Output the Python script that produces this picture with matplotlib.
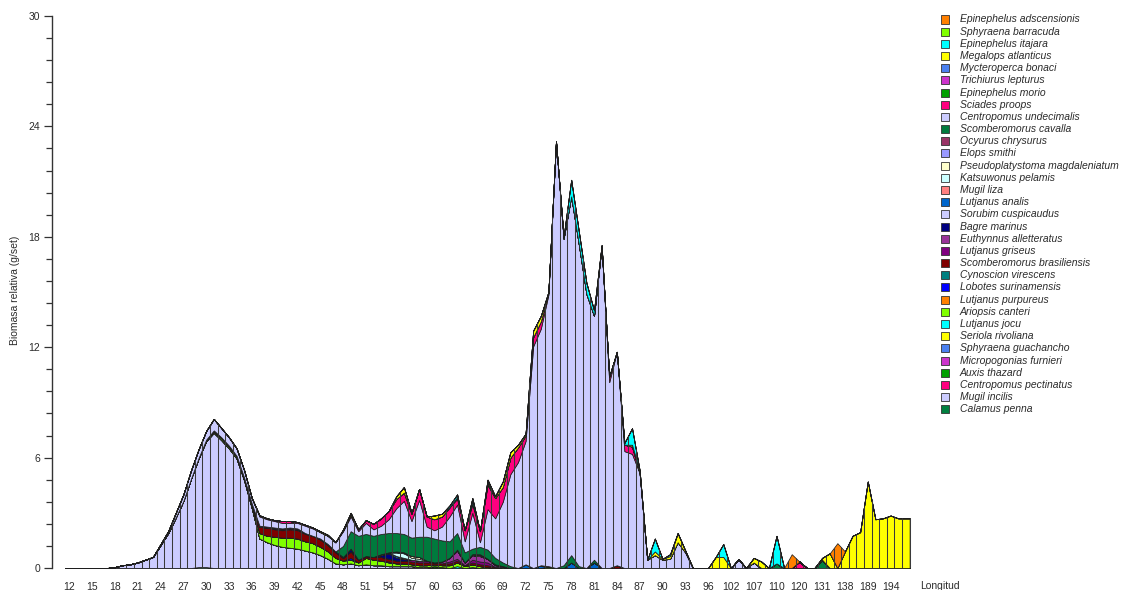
import numpy as np
import matplotlib
matplotlib.use("Agg")
from matplotlib import pyplot as plt
from matplotlib.patches import Rectangle
from matplotlib.ticker import MultipleLocator

plt.rcParams["font.family"] = ["Liberation Sans", "DejaVu Sans"]

# longitudes sampled, used as categories on the x axis
longitud = list(range(12, 96)) + [96, 98, 100, 102, 104, 105, 107, 108, 109, 110,
                                  112, 115, 120, 124, 127, 131, 133, 135, 138, 150,
                                  180, 189, 190, 192, 194, 196, 198]

# relative biomass (g/set) per species, only where it was caught {longitud: value}
calamus_penna = {29: .05, 30: .05, 110: .25, 131: .45}
mugil_incilis = {18: .05, 19: .15, 20: .2, 21: .3, 22: .45, 23: .6, 24: 1.25, 25: 1.9,
                 26: 2.75, 27: 3.65, 28: 4.85, 29: 5.9, 30: 6.85, 31: 7.35, 32: 6.95,
                 33: 6.5, 34: 5.95, 35: 4.75, 36: 3.25, 37: 1.6, 38: 1.4, 39: 1.25,
                 40: 1.15, 41: 1.1, 42: 1.05, 43: .95, 44: .85, 45: .7, 46: .5, 47: .25,
                 48: .2, 49: .25, 50: .15, 51: .2, 52: .15, 53: .15, 54: .1, 55: .1,
                 56: .1, 57: .1, 58: .05, 59: .05, 104: .47, 107: .3}
centropomus_pectinatus = {120: .35}
auxis_thazard = {60: .1, 61: .05}
micropogonias_furnieri = {}
sphyraena_guachancho = {}
seriola_rivoliana = {}
lutjanus_jocu = {63: .1, 65: .05}
ariopsis_canteri = {29: .03, 30: .05, 31: .08, 32: .1, 33: .1, 34: .1, 35: .1, 36: .15,
                    37: .3, 38: .35, 39: .45, 40: .5, 41: .55, 42: .55, 43: .5, 44: .5,
                    45: .45, 46: .4, 47: .3, 48: .2, 49: .2, 50: .15, 51: .35, 52: .3,
                    53: .25, 54: .2, 55: .15, 56: .15, 57: .1, 58: .1, 59: .1, 60: .1,
                    61: .1, 62: .15, 63: .2, 64: .1, 65: .15, 66: .1, 67: .05, 69: .05,
                    75: .1}
lutjanus_purpureus = {}
lobotes_surinamensis = {49: .1, 54: .05}
cynoscion_virescens = {}
scomberomorus_brasiliensis = {30: .03, 31: .05, 32: .05, 33: .05, 34: .05, 35: .05,
                              36: .1, 37: .35, 38: .45, 39: .4, 40: .4, 41: .45, 42: .45,
                              43: .4, 44: .4, 45: .4, 46: .35, 47: .3, 48: .15, 49: .35,
                              50: .15, 51: .1, 52: .15, 53: .2, 54: .15, 55: .15, 56: .15,
                              57: .15, 58: .15, 59: .15, 60: .1, 61: .1, 62: .1, 63: .1,
                              64: .05, 65: .1, 66: .1, 67: .1, 68: .05, 84: .15}
lutjanus_griseus = {39: .05, 40: .05, 41: .05, 42: .05, 43: .05, 57: .1, 58: .1, 59: .1,
                    62: .1, 63: .1, 65: .15, 66: .15, 67: .15}
euthynnus_alletteratus = {61: .1, 62: .2, 63: .45, 64: .15, 65: .25, 66: .3, 67: .2,
                          68: .1, 69: .05}
bagre_marinus = {45: .05, 46: .05, 47: .05, 48: .05, 49: .15, 53: .1, 54: .3, 55: .15,
                 56: .1}
sorubim_cuspicaudus = {}
lutjanus_analis = {54: .05, 55: .1, 68: .05, 72: .2, 74: .15, 78: .3, 81: .3}
mugil_liza = {56: .05}
katsuwonus_pelamis = {55: .2, 56: .25, 57: .1, 58: .1}
pseudoplatystoma_magdaleniatum = {57: .1, 58: .1, 65: .05, 66: .05}
elops_smithi = {53: .05, 55: .05, 56: .05}
ocyurus_chrysurus = {37: .05, 38: .05, 39: .05, 40: .05, 41: .05, 42: .05, 63: .05,
                     66: .05}
scomberomorus_cavalla = {48: .6, 49: .95, 50: 1.3, 51: 1.2, 52: 1.15, 53: 1.1, 54: 1.05,
                         55: 1.0, 56: 1.0, 57: 1.0, 58: 1.1, 59: 1.3, 60: 1.3, 61: 1.15,
                         62: .9, 63: .9, 64: .55, 65: .3, 66: .4, 67: .5, 68: .35,
                         69: .2, 70: .1, 77: .15, 78: .4, 79: .1, 81: .15}
centropomus_undecimalis = {24: .05, 25: .1, 26: .25, 27: .35, 28: .45, 29: .47, 30: .47,
                           31: .62, 32: .5, 33: .45, 34: .4, 35: .4, 36: .3, 37: .5,
                           38: .4, 39: .35, 40: .3, 41: .25, 42: .3, 43: .4, 44: .4,
                           45: .35, 46: .45, 47: .5, 48: .8, 49: .8, 50: .25, 51: .6,
                           52: .35, 53: .45, 54: .75, 55: 1.35, 56: 1.8, 57: .9, 58: 2.0,
                           59: .55, 60: .45, 61: .75, 62: 1.35, 63: 1.55, 64: .6,
                           65: 1.95, 66: .25, 67: 2.2, 68: 2.15, 69: 3.3, 70: 5.0,
                           71: 5.75, 72: 6.7, 73: 12.05, 74: 12.85, 75: 14.75, 76: 23.2,
                           77: 17.75, 78: 19.5, 79: 17.5, 80: 14.9, 81: 13.25, 82: 17.5,
                           83: 10.1, 84: 11.6, 85: 6.35, 86: 6.2, 87: 5.15, 88: .45,
                           89: .7, 90: .45, 91: .5, 92: 1.4, 93: .85}
sciades_proops = {37: .05, 38: .05, 39: .05, 40: .1, 41: .1, 42: .05, 43: .05, 44: .05,
                  48: .05, 49: .1, 50: .1, 51: .15, 52: .3, 53: .4, 54: .45, 55: .5,
                  56: .45, 57: .4, 58: .6, 59: .55, 60: .6, 61: .55, 62: .5, 63: .3,
                  64: .6, 65: .45, 66: .6, 67: 1.3, 68: 1.1, 69: .8, 70: .9, 71: .8,
                  72: .3, 73: .5, 74: .4, 75: .1, 83: .3, 85: .35, 86: .4}
epinephelus_morio = {63: .1, 65: .15, 67: .1}
trichiurus_lepturus = {}
mycteroperca_bonaci = {}
megalops_atlanticus = {37: .02, 45: .05, 46: .05, 48: .05, 49: .1, 55: .15, 56: .3,
                       57: .05, 60: .2, 61: .15, 67: .1, 68: .1, 69: .3, 70: .3, 71: .15,
                       72: .1, 73: .35, 74: .3, 75: .05, 86: .1, 87: .15, 89: .2, 90: .05,
                       91: .15, 92: .5, 93: .1, 98: .6, 100: .6, 107: .25, 108: .35,
                       131: .1, 133: .8, 138: .9, 150: 1.75, 180: 1.95, 189: 4.7,
                       190: 2.65, 192: 2.7, 194: 2.85, 196: 2.7, 198: 2.7}
epinephelus_itajara = {62: .1, 63: .15, 65: .2, 67: .1, 77: .1, 78: .9, 79: .7, 80: .6,
                       81: .3, 82: .05, 85: .1, 86: .9, 89: .7, 91: .1, 100: .7, 110: 1.5}
sphyraena_barracuda = {}
epinephelus_adscensionis = {115: .75, 135: 1.35}

# stacking order, bottom first
especies = [
    ("Calamus penna", calamus_penna, "#008040"),
    ("Mugil incilis", mugil_incilis, "#ccccff"),
    ("Centropomus pectinatus", centropomus_pectinatus, "#ff0080"),
    ("Auxis thazard", auxis_thazard, "#00a000"),
    ("Micropogonias furnieri", micropogonias_furnieri, "#cc33cc"),
    ("Sphyraena guachancho", sphyraena_guachancho, "#4a80f0"),
    ("Seriola rivoliana", seriola_rivoliana, "#ffff00"),
    ("Lutjanus jocu", lutjanus_jocu, "#00ffff"),
    ("Ariopsis canteri", ariopsis_canteri, "#80ff00"),
    ("Lutjanus purpureus", lutjanus_purpureus, "#ff8000"),
    ("Lobotes surinamensis", lobotes_surinamensis, "#0000ff"),
    ("Cynoscion virescens", cynoscion_virescens, "#008080"),
    ("Scomberomorus brasiliensis", scomberomorus_brasiliensis, "#800000"),
    ("Lutjanus griseus", lutjanus_griseus, "#800080"),
    ("Euthynnus alletteratus", euthynnus_alletteratus, "#993399"),
    ("Bagre marinus", bagre_marinus, "#000080"),
    ("Sorubim cuspicaudus", sorubim_cuspicaudus, "#ccccff"),
    ("Lutjanus analis", lutjanus_analis, "#0066cc"),
    ("Mugil liza", mugil_liza, "#ff8080"),
    ("Katsuwonus pelamis", katsuwonus_pelamis, "#ccffff"),
    ("Pseudoplatystoma magdaleniatum", pseudoplatystoma_magdaleniatum, "#ffffcc"),
    ("Elops smithi", elops_smithi, "#9999ff"),
    ("Ocyurus chrysurus", ocyurus_chrysurus, "#993366"),
    ("Scomberomorus cavalla", scomberomorus_cavalla, "#007a3d"),
    ("Centropomus undecimalis", centropomus_undecimalis, "#ccccff"),
    ("Sciades proops", sciades_proops, "#ff0080"),
    ("Epinephelus morio", epinephelus_morio, "#00a000"),
    ("Trichiurus lepturus", trichiurus_lepturus, "#cc33cc"),
    ("Mycteroperca bonaci", mycteroperca_bonaci, "#4a80f0"),
    ("Megalops atlanticus", megalops_atlanticus, "#ffff00"),
    ("Epinephelus itajara", epinephelus_itajara, "#00ffff"),
    ("Sphyraena barracuda", sphyraena_barracuda, "#80ff00"),
    ("Epinephelus adscensionis", epinephelus_adscensionis, "#ff8000"),
]

W, H = 1121, 590
fig = plt.figure(figsize=(W / 100, H / 100), dpi=100)
ax = fig.add_axes([52 / W, 22 / H, 869 / W, 552 / H])

n = len(longitud)
x = np.arange(n)
# the areas run half a category past the first and last point
x_ext = np.concatenate([[-0.5], x, [n - 0.5]])
capas = []
for nombre, datos, color in especies:
    v = np.array([datos.get(lon, 0.0) for lon in longitud])
    capas.append(np.concatenate([[v[0]], v, [v[-1]]]))

ax.stackplot(x_ext, *capas, colors=[e[2] for e in especies],
             edgecolor="#1e1e1e", linewidth=0.55, zorder=2)

# drop lines on the category boundaries, up to the top of the stack
total = np.sum(capas, axis=0)
bordes = np.arange(-0.5, n, 1.0)
ax.vlines(bordes, 0, np.interp(bordes, x_ext, total), color="#3a3a3a",
          linewidth=0.75, zorder=3)

ax.set_xlim(-2.275, 112.0)
ax.set_ylim(0, 30)
for s in ["top", "right", "bottom"]:
    ax.spines[s].set_visible(False)
ax.spines["left"].set_color("#333333")
ax.spines["left"].set_linewidth(1.0)

ax.set_yticks(np.arange(0, 31, 6))
ax.yaxis.set_minor_locator(MultipleLocator(1.2))
ax.tick_params(axis="y", which="major", length=6, width=0.9, color="#333333",
               labelsize=7.5, labelcolor="#2b2b2b", pad=2.5)
ax.tick_params(axis="y", which="minor", length=4.5, width=0.9, color="#333333")
ax.set_xticks(x[::3])
ax.set_xticklabels([str(v) for v in longitud[::3]])
ax.tick_params(axis="x", length=0, labelsize=7.5, labelcolor="#2b2b2b", pad=10)

fig.text(15 / W, 1 - 290 / H, "Biomasa relativa (g/set)", rotation=90,
         ha="center", va="center", fontsize=7.5, color="#2b2b2b")
fig.text(920 / W, 1 - 586 / H, "Longitud", ha="left", va="center",
         fontsize=7.5, color="#2b2b2b")

# legend, top of the stack first
for k, (nombre, datos, color) in enumerate(especies[::-1]):
    yc = 19.5 + 12.18 * k
    fig.add_artist(Rectangle((941 / W, 1 - (yc + 4) / H), 8 / W, 8 / H,
                             facecolor=color, edgecolor="#333333", linewidth=0.6,
                             transform=fig.transFigure))
    fig.text(960 / W, 1 - yc / H, nombre, ha="left", va="center", fontsize=7.5,
             fontstyle="italic", color="#2b2b2b")

plt.savefig("out.png", dpi=100)
